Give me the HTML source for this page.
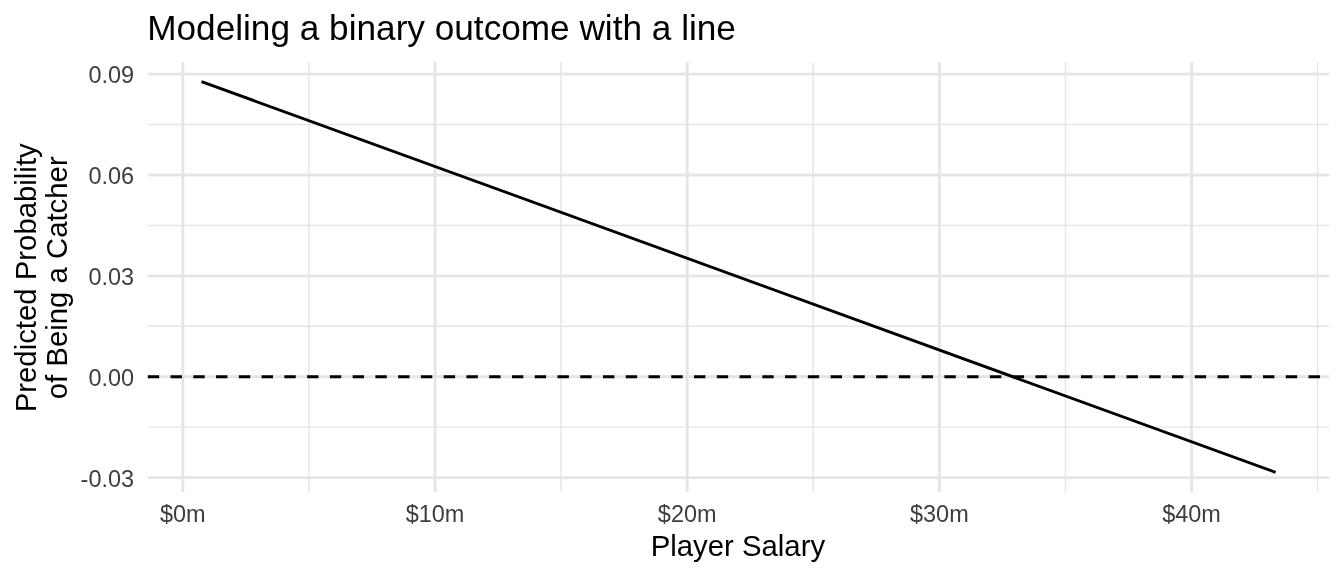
<!DOCTYPE html>
<html><head><meta charset="utf-8"><title>Modeling a binary outcome with a line</title>
<style>html,body{margin:0;padding:0;background:#fff;overflow:hidden}svg{display:block;will-change:transform}text{font-family:"Liberation Sans",sans-serif}</style></head><body>
<svg width="1344" height="576" viewBox="0 0 1344 576">
<rect width="1344" height="576" fill="#fff"/>
<g stroke="#E5E5E5" stroke-width="1.42" fill="none">
<line x1="147.8" x2="1329.33" y1="124.58" y2="124.58"/>
<line x1="147.8" x2="1329.33" y1="225.44" y2="225.44"/>
<line x1="147.8" x2="1329.33" y1="326.30" y2="326.30"/>
<line x1="147.8" x2="1329.33" y1="427.16" y2="427.16"/>
<line y1="62.0" y2="491.9" x1="308.93" x2="308.93"/>
<line y1="62.0" y2="491.9" x1="561.11" x2="561.11"/>
<line y1="62.0" y2="491.9" x1="813.29" x2="813.29"/>
<line y1="62.0" y2="491.9" x1="1065.47" x2="1065.47"/>
<line y1="62.0" y2="491.9" x1="1317.65" x2="1317.65"/>
</g>
<g stroke="#E5E5E5" stroke-width="2.85" fill="none">
<line x1="147.8" x2="1329.33" y1="74.15" y2="74.15"/>
<line x1="147.8" x2="1329.33" y1="175.01" y2="175.01"/>
<line x1="147.8" x2="1329.33" y1="275.87" y2="275.87"/>
<line x1="147.8" x2="1329.33" y1="376.73" y2="376.73"/>
<line x1="147.8" x2="1329.33" y1="477.59" y2="477.59"/>
<line y1="62.0" y2="491.9" x1="182.84" x2="182.84"/>
<line y1="62.0" y2="491.9" x1="435.02" x2="435.02"/>
<line y1="62.0" y2="491.9" x1="687.20" x2="687.20"/>
<line y1="62.0" y2="491.9" x1="939.38" x2="939.38"/>
<line y1="62.0" y2="491.9" x1="1191.56" x2="1191.56"/>
</g>
<line x1="201.5" y1="81.54" x2="1275.63" y2="472.36" stroke="#000" stroke-width="2.85"/>
<line x1="147.8" x2="1329.33" y1="376.73" y2="376.73" stroke="#000" stroke-width="2.85" stroke-dasharray="11.38 11.38"/>
<g fill="#3E3E3E" font-size="23.47px" text-anchor="end">
<text x="134.1" y="83.00">0.09</text>
<text x="134.1" y="184.00">0.06</text>
<text x="134.1" y="285.00">0.03</text>
<text x="134.1" y="386.00">0.00</text>
<text x="134.1" y="487.00">-0.03</text>
</g>
<g fill="#3E3E3E" font-size="23.47px" text-anchor="middle">
<text x="182.84" y="521.7">$0m</text>
<text x="435.02" y="521.7">$10m</text>
<text x="687.20" y="521.7">$20m</text>
<text x="939.38" y="521.7">$30m</text>
<text x="1191.56" y="521.7">$40m</text>
</g>
<text x="737.9" y="556" font-size="29.33px" text-anchor="middle" fill="#000">Player Salary</text>
<g transform="rotate(-90)" font-size="29.33px" text-anchor="middle" fill="#000">
<text x="-277.8" y="35.8">Predicted Probability</text>
<text x="-277.8" y="67.1">of Being a Catcher</text>
</g>
<text x="147.2" y="39.9" font-size="35.2px" fill="#000">Modeling a binary outcome with a line</text>
</svg></body></html>
